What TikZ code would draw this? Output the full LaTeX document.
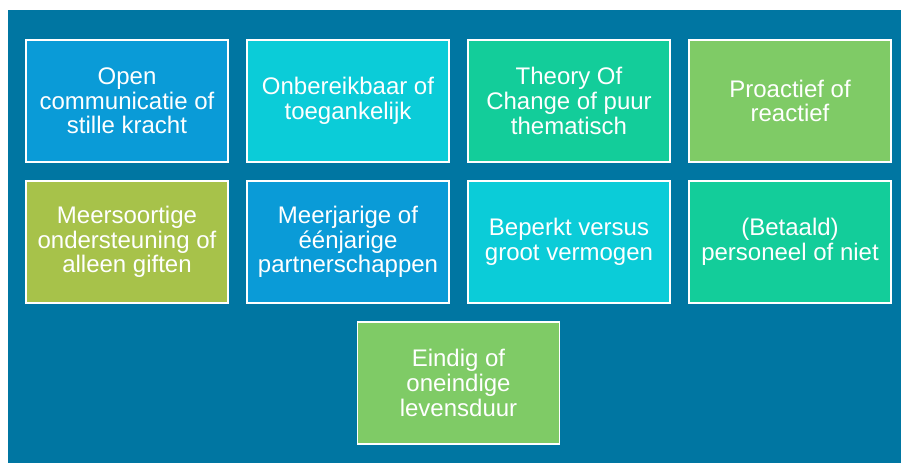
\documentclass[tikz,border=0pt]{standalone}
\usepackage{fontspec}
\setmainfont{Liberation Sans}
\usetikzlibrary{positioning}
\definecolor{bgblue}{HTML}{0076A2}
\definecolor{tileblue}{HTML}{0A9BD7}
\definecolor{tilecyan}{HTML}{0BCCD8}
\definecolor{tileteal}{HTML}{13CD9A}
\definecolor{tilegreen}{HTML}{7FCB66}
\definecolor{tileolive}{HTML}{A7C24A}

\begin{document}
\begin{tikzpicture}[
  x=1pt, y=-1pt,
  tile/.style={draw=white, line width=1.6pt, minimum width=202pt, minimum height=122pt,
               inner sep=4pt, align=center, text=white,
               font=\fontsize{24}{24.7}\selectfont},
]

% ---- canvas ----
\useasboundingbox (0,0) rectangle (901,463);
\fill[bgblue] (8,10) rectangle (901,463);

% ---- first row ----
\node[tile, fill=tileblue]  (open)  at (127,101) {Open\\communicatie of\\stille kracht};
\node[tile, fill=tilecyan]  (onber) at (348,101) {Onbereikbaar of\\toegankelijk};
\node[tile, fill=tileteal]  (toc)   at (569,101) {Theory Of\\Change of puur\\thematisch};
\node[tile, fill=tilegreen] (proa)  at (790,101) {Proactief of\\reactief};

% ---- second row ----
\node[tile, fill=tileolive] (meer)  at (127,242) {Meersoortige\\ondersteuning of\\alleen giften};
\node[tile, fill=tileblue]  (jarig) at (348,242) {Meerjarige of\\éénjarige\\partnerschappen};
\node[tile, fill=tilecyan]  (verm)  at (569,242) {Beperkt versus\\groot vermogen};
\node[tile, fill=tileteal]  (pers)  at (790,242) {(Betaald)\\personeel of niet};

% ---- third row ----
\node[tile, fill=tilegreen] (eind)  at (458.5,383) {Eindig of\\oneindige\\levensduur};

\end{tikzpicture}
\end{document}
